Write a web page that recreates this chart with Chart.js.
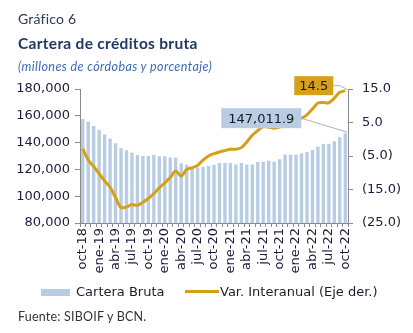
<!DOCTYPE html>
<html>
<head>
<meta charset="utf-8">
<script src="https://cdn.jsdelivr.net/npm/chart.js@4.4.1/dist/chart.umd.min.js"></script>
<style>
  html, body { margin: 0; padding: 0; background: #fff; }
  #wrap { position: relative; width: 413px; height: 333px; overflow: hidden; }
  #c { position: absolute; left: 0; top: 0; }
  .t { position: absolute; white-space: nowrap; }
</style>
</head>
<body>
<div id="wrap">
  <canvas id="c" width="413" height="333"></canvas>
  <div class="t" style="left:18px;top:10px;font:14px Lato, 'Open Sans', sans-serif;color:#2e3a52;letter-spacing:0.2px;">Gráfico 6</div>
  <div class="t" style="left:18px;top:34px;font:bold 15.5px Lato, 'Open Sans', sans-serif;color:#1f3864;letter-spacing:0.3px;">Cartera de créditos bruta</div>
  <div class="t" style="left:18px;top:59px;font:italic 12.5px Lato, 'Open Sans', sans-serif;color:#3d6cb3;letter-spacing:0.4px;">(millones de córdobas y porcentaje)</div>
  <div style="position:absolute;left:41px;top:289px;width:29px;height:7px;background:#b8cce4;"></div>
  <div class="t" style="left:76px;top:284px;font:13px 'DejaVu Sans', sans-serif;color:#1c1c2c;">Cartera Bruta</div>
  <div style="position:absolute;left:185px;top:290px;width:34px;height:3px;background:#d4a017;"></div>
  <div class="t" style="left:220px;top:284px;font:13px 'DejaVu Sans', sans-serif;color:#1c1c2c;">Var. Interanual (Eje der.)</div>
  <div class="t" style="left:18px;top:309px;font:12.5px Lato, 'Open Sans', sans-serif;color:#333;letter-spacing:0.2px;">Fuente: SIBOIF y BCN.</div>
</div>
<script>
const categories = [
  'oct-18','nov-18','dic-18',
  'ene-19','feb-19','mar-19','abr-19','may-19','jun-19','jul-19','ago-19','sep-19','oct-19','nov-19','dic-19',
  'ene-20','feb-20','mar-20','abr-20','may-20','jun-20','jul-20','ago-20','sep-20','oct-20','nov-20','dic-20',
  'ene-21','feb-21','mar-21','abr-21','may-21','jun-21','jul-21','ago-21','sep-21','oct-21','nov-21','dic-21',
  'ene-22','feb-22','mar-22','abr-22','may-22','jun-22','jul-22','ago-22','sep-22','oct-22'
];
const carteraBruta = [
  157500, 155800, 152300, 149500, 146000, 143000, 139500, 136000, 134200, 132500, 130800, 130000,
  130000, 130800, 129800, 129800, 128900, 128800, 124500, 123500, 121500, 121500, 122000, 122500,
  123500, 124700, 124700, 124700, 123700, 124700, 123700, 123700, 125500, 125700, 126500, 125700,
  127500, 131000, 131000, 131000, 132000, 133000, 134500, 137000, 139000, 139000, 141000, 144000,
  147011.9
];
const varInteranual = [
  -2.8, -6.2, -8.1, -10.3, -12.4, -14.3, -17.4, -20.4, -20.2, -19.5, -19.7, -18.8,
  -17.7, -16.2, -14.5, -13.0, -11.4, -9.5, -11.0, -9.0, -8.5, -7.8, -6.2, -5.0,
  -4.3, -3.8, -3.4, -3.0, -3.0, -2.5, -0.8, 1.2, 2.6, 3.8, 3.6, 3.3,
  3.6, 4.6, 5.5, 6.0, 6.3, 7.3, 9.0, 10.8, 11.0, 10.9, 12.3, 14.0,
  14.5
];
const leftTicks = { min: 80000, max: 180000, step: 20000 };
const rightTicks = { min: -25, max: 15, step: 10 };

const tickColor = '#1c1c3c';
const axisColor = '#8a8a8a';
const barColor = '#b8cce4';
const lineColor = '#d4a017';

const calloutPlugin = {
  id: 'callouts',
  afterDatasetsDraw(chart) {
    const ctx = chart.ctx;
    const barMeta = chart.getDatasetMeta(0);
    const lineMeta = chart.getDatasetMeta(1);
    const n = categories.length - 1;
    const bar = barMeta.data[n];
    const pt = lineMeta.data[n];
    ctx.save();
    ctx.font = '13px "DejaVu Sans", sans-serif';
    ctx.textAlign = 'center';
    ctx.textBaseline = 'middle';
    const bTxt = carteraBruta[n].toLocaleString('en-US', {minimumFractionDigits: 1, maximumFractionDigits: 1});
    const bw = 80, bh = 20;
    const bx = bar.x - 44 - bw, by = bar.y - 15 - bh / 2;
    ctx.strokeStyle = '#b0b0b0';
    ctx.lineWidth = 1;
    ctx.beginPath();
    ctx.moveTo(bx + bw, by + bh / 2);
    ctx.lineTo(bar.x + 2, bar.y - 1);
    ctx.stroke();
    ctx.fillStyle = barColor;
    ctx.fillRect(bx, by, bw, bh);
    ctx.fillStyle = '#1a1a1a';
    ctx.fillText(bTxt, bx + bw / 2, by + bh / 2 + 1);
    const lTxt = varInteranual[n].toFixed(1);
    const lw = 39, lh = 19;
    const lx = pt.x - 12 - lw, ly = pt.y - 5 - lh / 2;
    ctx.beginPath();
    ctx.moveTo(lx + lw, ly + lh / 2);
    ctx.lineTo(lx + lw + 7, ly + lh / 2);
    ctx.lineTo(pt.x + 2, pt.y - 1);
    ctx.stroke();
    ctx.fillStyle = '#d6a01c';
    ctx.fillRect(lx, ly, lw, lh);
    ctx.fillStyle = '#1a1a1a';
    ctx.fillText(lTxt, lx + lw / 2, ly + lh / 2 + 1);
    ctx.restore();
  }
};

new Chart(document.getElementById('c'), {
  data: {
    labels: categories,
    datasets: [
      {
        type: 'bar',
        label: 'Cartera Bruta',
        data: carteraBruta,
        yAxisID: 'y',
        backgroundColor: barColor,
        barPercentage: 0.62,
        categoryPercentage: 1.0,
        order: 2
      },
      {
        type: 'line',
        label: 'Var. Interanual (Eje der.)',
        data: varInteranual,
        yAxisID: 'y1',
        borderColor: lineColor,
        borderWidth: 3,
        pointRadius: 0,
        tension: 0.3,
        fill: false,
        order: 1
      }
    ]
  },
  options: {
    responsive: false,
    animation: false,
    events: [],
    layout: { padding: { top: 89, left: 0, right: 0, bottom: 0 } },
    plugins: { legend: { display: false }, tooltip: { enabled: false } },
    scales: {
      x: {
        offset: true,
        grid: { display: true, drawOnChartArea: false, drawTicks: true, tickLength: 4, color: axisColor },
        border: { display: true, color: axisColor },
        ticks: {
          autoSkip: false,
          maxRotation: 90,
          minRotation: 90,
          padding: 1,
          color: tickColor,
          font: { family: 'DejaVu Sans', size: 13 },
          callback: (v, i) => (i % 3 === 0 ? categories[i] : '')
        },
        afterFit: (s) => { s.height = 110; }
      },
      y: {
        position: 'left',
        min: leftTicks.min,
        max: leftTicks.max,
        grid: { display: true, drawOnChartArea: false, drawTicks: true, tickLength: 5, color: axisColor },
        border: { display: true, color: axisColor },
        ticks: {
          stepSize: leftTicks.step,
          padding: 5,
          color: tickColor,
          font: { family: 'DejaVu Sans', size: 13 },
          callback: (v) => v.toLocaleString('en-US')
        },
        afterFit: (s) => { s.width = 80; }
      },
      y1: {
        position: 'right',
        min: rightTicks.min,
        max: rightTicks.max,
        grid: { display: true, drawOnChartArea: false, drawTicks: true, tickLength: 5, color: axisColor },
        border: { display: true, color: axisColor },
        ticks: {
          stepSize: rightTicks.step,
          padding: 9,
          color: tickColor,
          font: { family: 'DejaVu Sans', size: 13 },
          callback: (v) => (v < 0 ? '(' + Math.abs(v).toFixed(1) + ')' : v.toFixed(1))
        },
        afterFit: (s) => { s.width = 65; }
      }
    }
  },
  plugins: [calloutPlugin]
});
</script>
</body>
</html>
